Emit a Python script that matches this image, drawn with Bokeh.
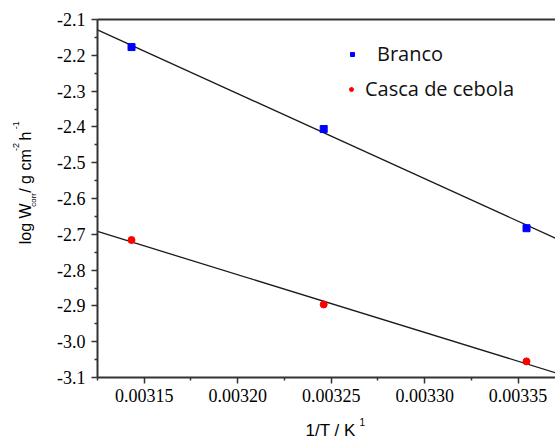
import math
from bokeh.plotting import figure
from bokeh.layouts import column, row
from bokeh.models import (Range1d, FixedTicker, PrintfTickFormatter, LinearAxis,
                          Label, Legend, LegendItem)
from bokeh.embed import file_html
from bokeh.resources import INLINE

# ---- data ----
inv_T = [0.0031432, 0.0032460, 0.0033545]
branco = [-2.177, -2.406, -2.683]
casca = [-2.716, -2.896, -3.055]

fit_x = [0.003125, 0.00337]
branco_fit = [-2.129, -2.711]
casca_fit = [-2.692, -3.087]

x_ticks = [0.00315, 0.00320, 0.00325, 0.00330, 0.00335]
x_minor = [0.003125, 0.003175, 0.003225, 0.003275, 0.003325, 0.003375]
y_ticks = [-3.1, -3.0, -2.9, -2.8, -2.7, -2.6, -2.5, -2.4, -2.3, -2.2, -2.1]
y_minor = [-3.05, -2.95, -2.85, -2.75, -2.65, -2.55, -2.45, -2.35, -2.25, -2.15]

series_names = ["Branco", "Casca de cebola"]

AXIS_COLOR = "#333333"
TICK_FONT = "Liberation Serif"
LABEL_FONT = "Liberation Sans"

W, H = 555, 441
YLAB_W = 50
XLAB_H = 30
MAIN_W = W - YLAB_W
MAIN_H = H - XLAB_H

p = figure(width=MAIN_W, height=MAIN_H, output_backend="svg", toolbar_location=None,
           title=None,
           x_range=Range1d(0.003125, 0.00337), y_range=Range1d(-3.1, -2.1),
           min_border_left=97 - YLAB_W, min_border_right=0, min_border_top=19,
           min_border_bottom=MAIN_H - 377)
p.background_fill_color = "white"
p.border_fill_color = "white"
p.outline_line_color = None
p.xgrid.visible = False
p.ygrid.visible = False

for ax in (p.xaxis[0], p.yaxis[0]):
    ax.axis_line_color = AXIS_COLOR
    ax.axis_line_width = 2
    ax.major_tick_line_color = AXIS_COLOR
    ax.major_tick_line_width = 1.5
    ax.minor_tick_line_color = AXIS_COLOR
    ax.minor_tick_line_width = 1.5
    ax.major_tick_in = 0
    ax.major_tick_out = 6
    ax.minor_tick_in = 0
    ax.minor_tick_out = 3
    ax.major_label_text_font = TICK_FONT
    ax.major_label_text_font_size = "18px"
    ax.major_label_text_color = "black"
    ax.major_label_standoff = 6

p.xaxis[0].ticker = FixedTicker(ticks=x_ticks, minor_ticks=x_minor)
p.xaxis[0].formatter = PrintfTickFormatter(format="%.5f")
p.xaxis[0].major_label_standoff = 5
p.yaxis[0].ticker = FixedTicker(ticks=y_ticks, minor_ticks=y_minor)
p.yaxis[0].formatter = PrintfTickFormatter(format="%.1f")

# top border line
top = LinearAxis(axis_line_color=AXIS_COLOR, axis_line_width=2,
                 major_tick_line_color=None, minor_tick_line_color=None,
                 major_tick_out=0, minor_tick_out=0, major_tick_in=0, minor_tick_in=0,
                 major_label_text_font_size="0px", major_label_standoff=0,
                 ticker=FixedTicker(ticks=[]))
p.add_layout(top, "above")

# fit lines
p.line(fit_x, branco_fit, line_color="#1a1a1a", line_width=1.3)
p.line(fit_x, casca_fit, line_color="#1a1a1a", line_width=1.3)

r_b = p.scatter(inv_T, branco, marker="square", size=7, fill_color="#0000ff",
                line_color="#0000ff")
r_c = p.scatter(inv_T, casca, marker="circle", size=7, fill_color="#ff0000",
                line_color="#ff0000")

def make_legend(name, rend, loc, standoff):
    lg = Legend(items=[LegendItem(label=name, renderers=[rend])], location=loc,
                border_line_color=None, background_fill_alpha=0, padding=0, margin=0,
                spacing=0, glyph_width=10, glyph_height=26, label_height=26,
                label_standoff=standoff, label_text_font="Open Sans",
                label_text_font_size="20px", label_text_color="#111111")
    p.add_layout(lg)

make_legend(series_names[0], r_b, (250, 310), 20)
make_legend(series_names[1], r_c, (249, 275), 9)


def text_panel(width, height, y_top):
    f = figure(width=width, height=height, output_backend="svg", toolbar_location=None,
               title=None,
               x_range=Range1d(0, width), y_range=Range1d(y_top + height, y_top),
               x_axis_location=None, y_axis_location=None,
               min_border_left=0, min_border_right=0, min_border_top=0,
               min_border_bottom=0)
    f.outline_line_color = None
    f.xgrid.visible = False
    f.ygrid.visible = False
    f.background_fill_color = "white"
    f.border_fill_color = "white"
    return f


def lab(f, text, x, y, size, angle=0.0):
    f.add_layout(Label(x=x, y=y, text=text, angle=angle, text_font=LABEL_FONT,
                       text_font_size=size, text_color="black", text_align="left",
                       text_baseline="alphabetic"))

# y-axis title panel (coordinates are canvas pixels, y downward)
ylab = text_panel(YLAB_W, MAIN_H, 0)
A = math.pi / 2
lab(ylab, "log W", 25, 258, "16px", A)
lab(ylab, "corr", 33, 215, "8px", A)
lab(ylab, "/ g cm", 25, 199, "16px", A)
lab(ylab, "-2", 15.5, 151, "9px", A)
lab(ylab, "h", 25, 139, "16px", A)
lab(ylab, "-1", 15.5, 126, "9px", A)

# x-axis title panel
xlab = text_panel(W, XLAB_H, MAIN_H)
lab(xlab, "1/T / K", 305, 430, "17px")
lab(xlab, "1", 359, 421, "10px")

layout = column(row(ylab, p), xlab)
open("out.html", "w").write(file_html(layout, INLINE))
